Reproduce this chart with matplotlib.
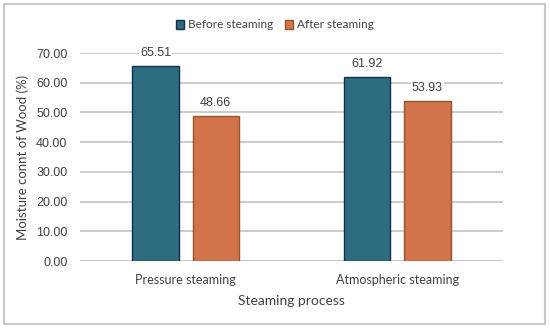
import matplotlib.pyplot as plt
import numpy as np
from matplotlib.patches import Rectangle

categories = ["Pressure steaming", "Atmospheric steaming"]
before = [65.51, 61.92]
after = [48.66, 53.93]
series_names = ["Before steaming", "After steaming"]

plt.rcParams['font.family'] = ['Lato', 'DejaVu Sans']
numfont = ['Liberation Sans', 'DejaVu Sans']

fig = plt.figure(figsize=(5.5, 3.28), dpi=100)
ax = fig.add_axes([80/550, 1-261/328, 423/550, 208/328])

x = np.arange(len(categories))
w = 0.22
off = 0.142
b1 = ax.bar(x - off, before, w, color="#2e6d80", edgecolor="#12304a", linewidth=1.0,
            label=series_names[0], zorder=3)
b2 = ax.bar(x + off, after, w, color="#d1744b", edgecolor="#9a5228", linewidth=1.0,
            label=series_names[1], zorder=3)

for bars in (b1, b2):
    for r in bars:
        ax.text(r.get_x() + r.get_width()/2, r.get_height() + 2.4, "%.2f" % r.get_height(),
                ha="center", va="bottom", fontsize=9, color="#404040", zorder=4,
                family=numfont,
                bbox=dict(facecolor="white", edgecolor="none", pad=0.5))

ax.set_xlim(-0.5, 1.5)
ax.set_ylim(0, 70)
ax.set_yticks(np.arange(0, 71, 10))
ax.set_yticklabels(["%.2f" % v for v in np.arange(0, 71, 10)], family=numfont)
ax.set_xticks(x)
ax.set_xticklabels(categories)
ax.tick_params(axis="y", length=0, pad=9, labelsize=9, labelcolor="#404040")
ax.tick_params(axis="x", length=0, pad=9, labelsize=9, labelcolor="#404040")
ax.yaxis.grid(True, color="#c4c4c4", linewidth=1.2, zorder=0)
for s in ax.spines.values():
    s.set_visible(False)
ax.axhline(0, color="#c4c4c4", linewidth=1.2, zorder=1)

ax.set_ylabel("Moisture connt of Wood (%)", fontsize=9.5, color="#404040", labelpad=5)
ax.set_xlabel("Steaming process", fontsize=10, color="#404040", labelpad=7)

fig.legend(handles=[b1, b2], loc="center", bbox_to_anchor=(0.5, 1-25/328), ncol=2,
           frameon=False, fontsize=8.5, handlelength=0.7, handleheight=0.7,
           handletextpad=0.3, columnspacing=1.0, labelcolor="#404040")

fig.patches.append(Rectangle((4/550, 4/328), 541/550, 320/328, transform=fig.transFigure,
                             fill=False, edgecolor="#c8c8c8", linewidth=1.5))

fig.savefig("out.png", dpi=100)
